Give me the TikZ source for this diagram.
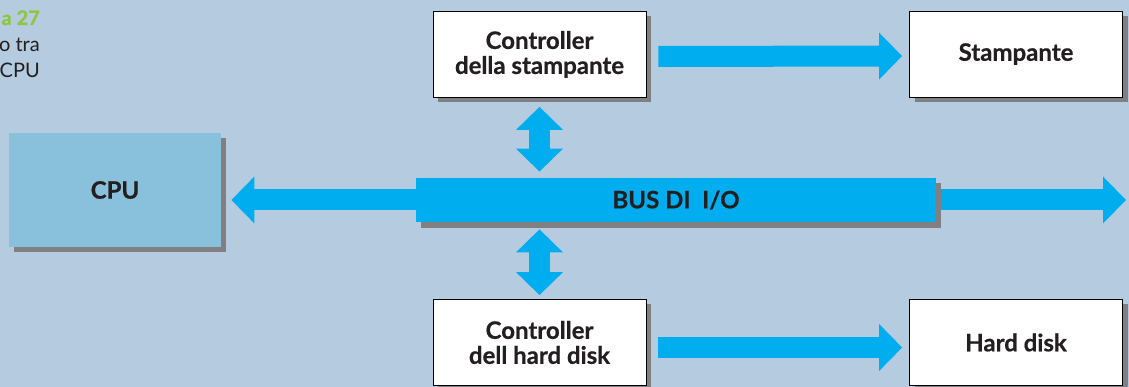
\documentclass[tikz,border=0pt]{standalone}
\usepackage{fontspec}
\setmainfont{Lato}[BoldFeatures={FakeBold=0.6}]
\usetikzlibrary{arrows.meta,shadows}

\definecolor{bgblue}{RGB}{181,204,224}
\definecolor{buscyan}{RGB}{0,174,239}
\definecolor{cpublue}{RGB}{137,192,220}
\definecolor{shadowgray}{RGB}{128,128,130}
\definecolor{textgray}{RGB}{35,31,32}
\definecolor{figgreen}{RGB}{141,198,63}

\tikzset{
    blocktip/.tip={Triangle[length=23pt,width=47pt,line width=0pt]},
    boxshadow/.style={drop shadow={shadow xshift=5pt,shadow yshift=-5pt,fill=shadowgray,opacity=1}},
    unit/.style={draw=black,line width=0.8pt,fill=white,boxshadow,
        minimum width=213pt,minimum height=86pt,inner sep=0pt,align=center,
        text=textgray,font=\bfseries\fontsize{24}{25}\selectfont},
    flow/.style={draw=buscyan,line width=21pt,arrows={-blocktip}},
    twoway/.style={draw=buscyan,line width=21pt,arrows={blocktip-blocktip}},
    caption/.style={anchor=base east,inner sep=0pt,text=textgray,font=\fontsize{20}{25}\selectfont}
}

\begin{document}
\begin{tikzpicture}[x=1pt,y=1pt]

% background
\useasboundingbox (0,0) rectangle (1129,387);
\fill[bgblue] (0,0) rectangle (1129,387);

% caption
\node[caption,text=figgreen,font=\bfseries\fontsize{20}{25}\selectfont] (figno) at (40,362) {a 27};
\node[caption] (capone) at (40,335) {o tra};
\node[caption] (captwo) at (40,309) {CPU};

% units
\node[unit,draw=none,fill=cpublue,minimum width=212pt,minimum height=114pt] (cpu) at (115,197) {CPU};
\node[unit] (ctrlP) at (539.5,332.5) {Controller\\della stampante};
\node[unit] (stamp) at (1016,333)   {Stampante};
\node[unit] (ctrlH) at (539.5,44.5)  {Controller\\dell hard disk};
\node[unit] (disk)  at (1016,44.5)   {Hard disk};

% bus
\node[unit,draw=none,fill=buscyan,minimum width=520pt,minimum height=44pt,
      drop shadow={shadow xshift=5pt,shadow yshift=-6pt,fill=shadowgray,opacity=1}]
    (bus) at (676,187) {BUS DI\ \ I/O};
\coordinate (busend) at (1126,187);

% bus arrows
\draw[flow,shorten >=10pt] (bus.west) -- (bus.west -| cpu.east);
\draw[flow,shorten <=5pt]  (bus.east) -- (busend);

% controllers to devices
\draw[flow,shorten <=12pt,shorten >=7pt] ([yshift=-2pt]ctrlP.east) -- ([yshift=-2pt]stamp.west);
\draw[flow,shorten <=12pt,shorten >=7pt] ([yshift=-5pt]ctrlH.east) -- ([yshift=-5pt]disk.west);

% controllers to bus
\draw[twoway,shorten <=9pt,shorten >=6pt] (ctrlP.south) -- (ctrlP.south |- bus.north);
\draw[twoway,shorten <=7pt,shorten >=4pt] (ctrlH.north |- bus.south) -- (ctrlH.north);

\end{tikzpicture}
\end{document}
